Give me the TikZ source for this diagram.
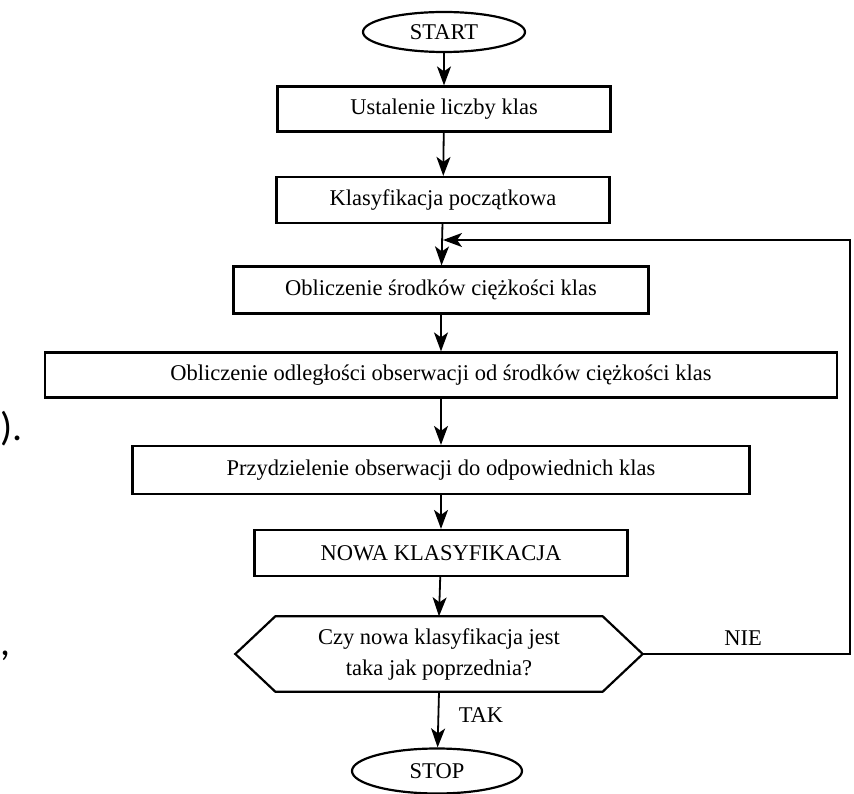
\documentclass[tikz,border=0pt]{standalone}
\usepackage{fontspec}
\setmainfont{Liberation Serif}
\newfontfamily\sidefont{Carlito}
\usetikzlibrary{arrows.meta,shapes.geometric}
\begin{document}
\begin{tikzpicture}[x=1pt,y=-1pt,
  every node/.style={font=\fontsize{22.5}{31}\selectfont, inner sep=0pt},
  proc/.style={draw, line width=2.2pt, rectangle},
  term/.style={draw, line width=2.2pt, ellipse},
  conn/.style={line width=1.8pt, -{Stealth[length=19pt,width=14pt,inset=5pt]}}]
\useasboundingbox (0,0) rectangle (854,794);
% nodes
\node[term, minimum width=162pt, minimum height=40pt] (start) at (444,32) {START};
\node[proc, minimum width=333pt, minimum height=45pt] (b1) at (444,109) {Ustalenie liczby klas};
\node[proc, minimum width=333pt, minimum height=46pt] (b2) at (443,200) {Klasyfikacja początkowa};
\node[proc, minimum width=415pt, minimum height=47pt] (b3) at (441,290) {Obliczenie środków ciężkości klas};
\node[proc, minimum width=792pt, minimum height=45pt] (b4) at (441,375) {Obliczenie odległości obserwacji od środków ciężkości klas};
\node[proc, minimum width=617pt, minimum height=48pt] (b5) at (441,470) {Przydzielenie obserwacji do odpowiednich klas};
\node[proc, minimum width=373pt, minimum height=46pt] (b6) at (441,553) {NOWA KLASYFIKACJA};
\node[rectangle, minimum width=407pt, minimum height=75pt, align=center] (hex) at (439,654)
  {Czy nowa klasyfikacja jest\\taka jak poprzednia?};
\draw[line width=2.2pt, line join=miter] (hex.west) -- ([xshift=40pt]hex.north west) -- ([xshift=-40pt]hex.north east)
  -- (hex.east) -- ([xshift=-40pt]hex.south east) -- ([xshift=40pt]hex.south west) -- cycle;
\node[term, minimum width=170pt, minimum height=45pt] (stop) at (437,771) {STOP};
\coordinate (fbR) at (850,654);
\coordinate (fbT) at (850,240);
\coordinate (fbJ) at (443,240);
% labels
\node (tak) at (481,715) {TAK};
\node (nie) at (743,638) {NIE};
% connectors
\draw[conn] (start) -- (b1);
\draw[conn] (b1) -- (b2);
\draw[conn] (b2) -- (b3);
\draw[conn] (b3) -- (b4);
\draw[conn] (b4) -- (b5);
\draw[conn] (b5) -- (b6);
\draw[conn] (b6) -- (hex.north);
\draw[conn] (hex.south) -- (stop);
\draw[conn] (hex.east) -- (fbR) -- (fbT) -- (fbJ);
% page fragments on the left edge
\node[font=\sidefont\fontsize{40}{40}\selectfont, anchor=base east] (frag1) at (23,440) {).};
\node[font=\sidefont\fontsize{40}{40}\selectfont, anchor=base west] (frag2) at (0,655) {,};
\end{tikzpicture}
\end{document}
